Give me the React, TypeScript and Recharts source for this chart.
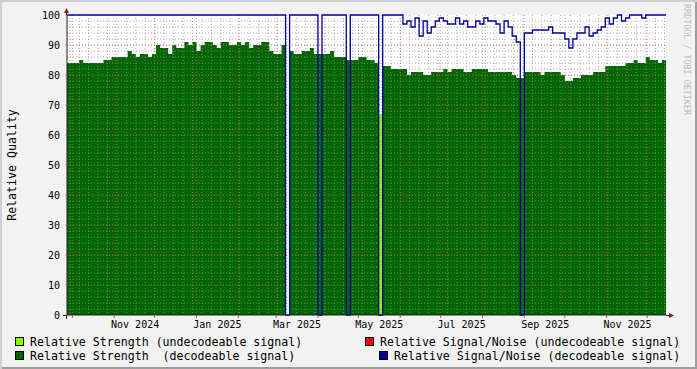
import React from "react";
import { ComposedChart, Area, Line, XAxis, YAxis, CartesianGrid } from "recharts";

const MONO = "'DejaVu Sans Mono', monospace";
const DAY_MS = 86400000;
// one sample every 3 days, first one on Sep 27 2024
const START_UTC = Date.UTC(2024, 8, 27);
const STEP_DAYS = 3;
const LAST_DAY = 444;

// Relative Strength (decodeable signal)
const strengthDecoded = [
  84, 84, 84, 85, 84, 84, 84, 84, 84, 85,
  85, 86, 86, 86, 86, 88, 87, 86, 87, 87,
  86, 87, 90, 89, 89, 87, 90, 89, 89, 91,
  90, 91, 88, 90, 91, 91, 90, 89, 91, 91,
  90, 90, 91, 90, 91, 89, 90, 90, 91, 91,
  88, 87, 87, 90, 0, 88, 87, 87, 88, 88,
  89, 87, 87, 87, 87, 88, 86, 86, 86, 85,
  85, 85, 86, 86, 85, 85, 84, 0, 83, 83,
  82, 82, 82, 82, 80, 81, 81, 81, 80, 80,
  81, 81, 81, 82, 81, 82, 82, 82, 81, 81,
  82, 82, 82, 82, 81, 81, 81, 81, 81, 81,
  80, 79, 79, 81, 81, 81, 81, 80, 81, 81,
  81, 81, 80, 78, 78, 79, 79, 80, 80, 80,
  81, 81, 81, 83, 83, 83, 83, 83, 84, 84,
  85, 84, 84, 86, 85, 85, 84, 85, 85,
];

// Relative Signal/Noise (decodeable signal)
const snrDecoded = [
  100, 100, 100, 100, 100, 100, 100, 100, 100, 100,
  100, 100, 100, 100, 100, 100, 100, 100, 100, 100,
  100, 100, 100, 100, 100, 100, 100, 100, 100, 100,
  100, 100, 100, 100, 100, 100, 100, 100, 100, 100,
  100, 100, 100, 100, 100, 100, 100, 100, 100, 100,
  100, 100, 100, 100, 0, 100, 100, 100, 100, 100,
  100, 100, 0, 100, 100, 100, 100, 100, 100, 0,
  100, 100, 100, 100, 100, 100, 100, 0, 100, 100,
  100, 100, 100, 97, 98, 96, 99, 93, 98, 94,
  96, 98, 99, 98, 97, 97, 99, 97, 98, 96,
  96, 98, 97, 99, 98, 98, 97, 94, 98, 96,
  93, 91, 0, 94, 94, 95, 95, 95, 95, 96,
  94, 94, 94, 92, 89, 92, 94, 94, 96, 93,
  94, 95, 96, 99, 97, 99, 100, 98, 99, 100,
  100, 100, 99, 100, 100, 100, 100, 100, 100,
];

// Relative Strength (undecodeable signal): only one sample, by sample index
const strengthUndecoded: Record<number, number> = { 77: 67, 78: 0 };

const monthStarts = [
  "2024-10-01", "2024-11-01", "2024-12-01", "2025-01-01", "2025-02-01",
  "2025-03-01", "2025-04-01", "2025-05-01", "2025-06-01", "2025-07-01",
  "2025-08-01", "2025-09-01", "2025-10-01", "2025-11-01", "2025-12-01",
];
const labelMonths = ["2024-11-01", "2025-01-01", "2025-03-01", "2025-05-01", "2025-07-01", "2025-09-01", "2025-11-01"];
const labelTexts = ["Nov 2024", "Jan 2025", "Mar 2025", "May 2025", "Jul 2025", "Sep 2025", "Nov 2025"];
const yTicks = [0, 10, 20, 30, 40, 50, 60, 70, 80, 90, 100];

const dayOf = (d: string) => (Date.parse(d + "T00:00:00Z") - START_UTC) / DAY_MS;

const rows = strengthDecoded.map((v, i) => ({
  day: i * STEP_DAYS,
  strength: v,
  snr: snrDecoded[i],
  weak: strengthUndecoded[i] ?? null,
}));

const monthDays = monthStarts.map(dayOf);
const labelDays = labelMonths.map((m) => dayOf(m) + 15.5);
const labelByDay = new Map(labelDays.map((d, i) => [d, labelTexts[i]]));
const xTicks = [...monthDays, ...labelDays].sort((a, b) => a - b);

const weekDays: number[] = [];
for (let d = dayOf("2024-09-29"); d <= LAST_DAY; d += 7) weekDays.push(d);
const minorY: number[] = [];
for (let v = 2; v < 100; v += 2) minorY.push(v);

const MINOR = "rgba(143,143,143,0.75)";
const MAJOR = "rgba(222,79,79,0.6)";

const legendItems = [
  { label: "Relative Strength (undecodeable signal)", color: "#7fff00", x: 15, row: 0 },
  { label: "Relative Signal/Noise (undecodeable signal)", color: "#ff0000", x: 365, row: 0 },
  { label: "Relative Strength  (decodeable signal)", color: "#006600", x: 15, row: 1 },
  { label: "Relative Signal/Noise (decodeable signal)", color: "#000099", x: 379, row: 1 },
];

function YTick({ x, y, payload }: any) {
  return (
    <text x={x} y={y} dy="0.35em" textAnchor="end" fontFamily={MONO} fontSize={10} fill="#000">
      {payload.value}
    </text>
  );
}

function XTick({ x, y, payload }: any) {
  const label = labelByDay.get(payload.value);
  if (label) {
    return (
      <text x={x} y={y + 9} dy="0.35em" textAnchor="middle" fontFamily={MONO} fontSize={10} fill="#000">
        {label}
      </text>
    );
  }
  return <line x1={x} x2={x} y1={y} y2={y + 3} stroke="#d24a4a" />;
}

export default function App() {
  return (
    <div
      style={{
        position: "absolute",
        left: 0,
        top: 0,
        width: 697,
        height: 369,
        background: "#f2f2f2",
        boxShadow: "inset 2px 2px 0 #cfcfcf, inset -2px -2px 0 #9e9e9e",
      }}
    >
      <ComposedChart width={697} height={369} data={rows} margin={{ top: 15, right: 31, bottom: 0, left: 0 }}>
        <CartesianGrid fill="#ffffff" horizontal={false} vertical={false} />
        <XAxis
          type="number"
          dataKey="day"
          domain={[0, LAST_DAY]}
          ticks={xTicks}
          interval={0}
          height={54}
          tickSize={0}
          tickMargin={0}
          tickLine={false}
          tick={<XTick />}
          axisLine={{ stroke: "#1f1f1f" }}
        />
        <YAxis
          type="number"
          domain={[0, 100]}
          ticks={yTicks}
          interval={0}
          width={67}
          tickSize={2}
          tickMargin={5}
          tickLine={{ stroke: MAJOR }}
          tick={<YTick />}
          axisLine={{ stroke: "#1f1f1f" }}
        />
        <Area type="stepAfter" dataKey="strength" fill="#006600" fillOpacity={1} stroke="none" isAnimationActive={false} />
        <Area type="stepAfter" dataKey="weak" fill="#7fff00" fillOpacity={1} stroke="none" isAnimationActive={false} />
        <CartesianGrid
          horizontalValues={minorY}
          verticalValues={weekDays}
          stroke={MINOR}
          strokeDasharray="1 2"
          fill="none"
          zIndex={300}
        />
        <CartesianGrid
          horizontalValues={[10, 20, 30, 40, 50, 60, 70, 80, 90]}
          verticalValues={monthDays}
          stroke={MAJOR}
          strokeDasharray="1 2"
          fill="none"
          zIndex={301}
        />
        <Line
          type="stepAfter"
          dataKey="snr"
          stroke="#000099"
          strokeWidth={1.3}
          dot={false}
          activeDot={false}
          isAnimationActive={false}
          zIndex={400}
        />
      </ComposedChart>
      <svg width={697} height={369} style={{ position: "absolute", left: 0, top: 0, pointerEvents: "none" }}>
        <line x1={63} x2={67} y1={315.5} y2={315.5} stroke="#1f1f1f" />
        <line x1={666} x2={670} y1={315.5} y2={315.5} stroke="#1f1f1f" />
        <line x1={66.5} x2={66.5} y1={315} y2={319} stroke="#1f1f1f" />
        <line x1={66.5} x2={66.5} y1={11} y2={15} stroke="#1f1f1f" />
        <polygon points="64,13 69,13 66.5,8" fill="#801f1f" />
        <polygon points="669,313 669,318 674,315.5" fill="#801f1f" />
        <text
          transform="translate(12,165) rotate(-90)"
          textAnchor="middle"
          dominantBaseline="central"
          fontFamily={MONO}
          fontSize={11.6}
          fill="#000"
        >
          Relative Quality
        </text>
        <text
          transform="translate(687,4) rotate(90)"
          textAnchor="start"
          dominantBaseline="central"
          fontFamily={MONO}
          fontSize={8.4}
          fill="#bdbdbd"
        >
          RRDTOOL / TOBI OETIKER
        </text>
        {legendItems.map((it) => (
          <g key={it.label}>
            <rect x={it.x + 0.5} y={337.5 + it.row * 14} width={8} height={8} fill={it.color} stroke="#000" />
            <text
              x={it.x + 15}
              y={341.5 + it.row * 14}
              dominantBaseline="central"
              fontFamily={MONO}
              fontSize={11.6}
              fill="#000"
              style={{ whiteSpace: "pre" }}
            >
              {it.label}
            </text>
          </g>
        ))}
      </svg>
    </div>
  );
}
